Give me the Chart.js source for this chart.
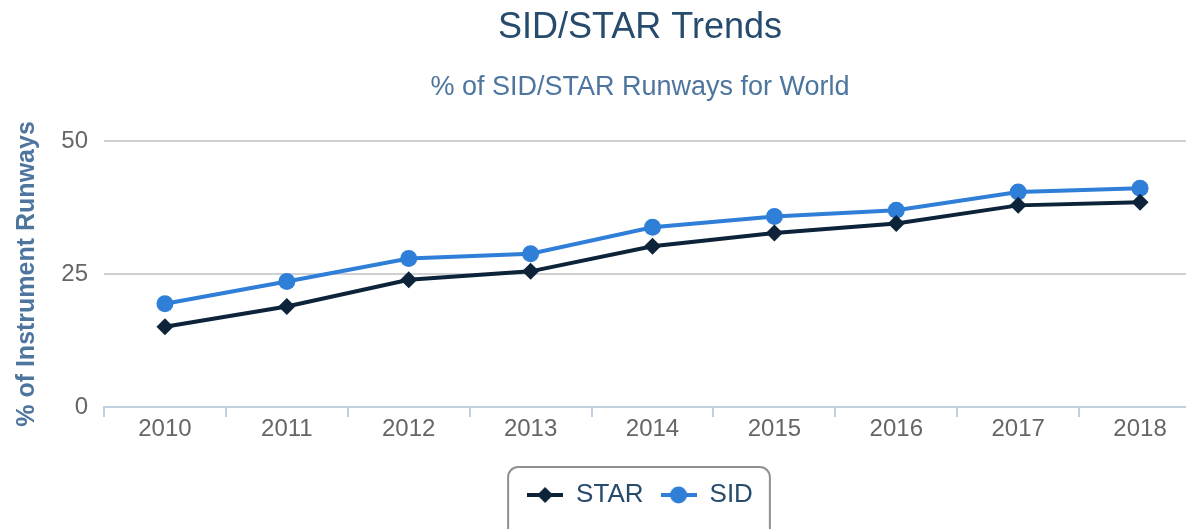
<!DOCTYPE html>
<html>
<head>
<meta charset="utf-8">
<script src="https://cdn.jsdelivr.net/npm/chart.js@4.4.1/dist/chart.umd.min.js"></script>
<style>
html,body{margin:0;padding:0;background:#fff;overflow:hidden;width:1186px;height:529px;}
#wrap{position:absolute;left:0;top:0;width:1280px;height:550px;}
</style>
</head>
<body>
<div id="wrap"><canvas id="c" width="1280" height="550"></canvas></div>
<script>
const categories = ['2010','2011','2012','2013','2014','2015','2016','2017','2018'];
const starValues = [15.1, 18.9, 23.9, 25.5, 30.2, 32.7, 34.5, 37.9, 38.5];
const sidValues  = [19.4, 23.6, 27.9, 28.8, 33.8, 35.8, 37.0, 40.4, 41.1];
const yTicks = [0, 25, 50];

const FONT = '"Liberation Sans", Arial, sans-serif';
const STAR_COLOR = '#0d233a';
const SID_COLOR = '#2f7ed8';

function legendSymbol(color, shape) {
  const cv = document.createElement('canvas');
  cv.width = 36; cv.height = 20;
  const g = cv.getContext('2d');
  g.strokeStyle = color; g.fillStyle = color; g.lineWidth = 4;
  g.beginPath(); g.moveTo(0, 10); g.lineTo(36, 10); g.stroke();
  g.beginPath();
  if (shape === 'diamond') {
    g.moveTo(18, 2); g.lineTo(26, 10); g.lineTo(18, 18); g.lineTo(10, 10); g.closePath();
  } else {
    g.arc(18, 10, 8.5, 0, Math.PI * 2);
  }
  g.fill();
  return cv;
}
const starSym = legendSymbol(STAR_COLOR, 'diamond');
const sidSym = legendSymbol(SID_COLOR, 'circle');

const legendBorder = {
  id: 'legendBorder',
  afterDraw(chart) {
    const lg = chart.legend;
    if (!lg || !lg.legendHitBoxes || !lg.legendHitBoxes.length) return;
    const hb = lg.legendHitBoxes;
    const left = Math.min(...hb.map(h => h.left)) - 19;
    const right = Math.max(...hb.map(h => h.left + h.width)) + 17;
    const top = hb[0].top - 15;
    const bottom = top + 80;
    const ctx = chart.ctx;
    ctx.save();
    ctx.strokeStyle = '#909090';
    ctx.lineWidth = 2;
    ctx.beginPath();
    ctx.roundRect(left, top, right - left, bottom - top, 10);
    ctx.stroke();
    ctx.restore();
  }
};

new Chart(document.getElementById('c'), {
  type: 'line',
  data: {
    labels: categories,
    datasets: [
      {
        label: 'STAR', data: starValues, yAxisID: 'y',
        borderColor: STAR_COLOR, backgroundColor: STAR_COLOR,
        borderWidth: 4, tension: 0,
        pointStyle: 'rectRot', pointRadius: 8.5, pointBorderWidth: 0,
        pointBackgroundColor: STAR_COLOR
      },
      {
        label: 'SID', data: sidValues, yAxisID: 'y',
        borderColor: SID_COLOR, backgroundColor: SID_COLOR,
        borderWidth: 4, tension: 0,
        pointStyle: 'circle', pointRadius: 8.5, pointBorderWidth: 0,
        pointBackgroundColor: SID_COLOR
      }
    ]
  },
  options: {
    responsive: false,
    animation: false,
    devicePixelRatio: 1,
    layout: { padding: { left: 0, right: 0, top: 0, bottom: 32 } },
    scales: {
      x: {
        type: 'category',
        offset: true,
        grid: { offset: true, drawOnChartArea: false, drawTicks: true, tickLength: 10, color: '#C0D0E0', lineWidth: 2 },
        border: { display: true, color: '#C0D0E0', width: 2 },
        ticks: { color: '#666666', font: { family: FONT, size: 24 }, padding: -2, maxRotation: 0, autoSkip: false },
        afterFit(s) { s.height = 58; }
      },
      y: {
        type: 'linear',
        position: 'left',
        min: 0, max: 50,
        afterBuildTicks(s) { s.ticks = yTicks.map(v => ({ value: v })); },
        grid: { color: '#d0d0d0', lineWidth: 2, drawTicks: false },
        border: { display: false },
        ticks: { color: '#666666', font: { family: FONT, size: 24 }, padding: 16 },
        title: {
          display: true, text: '% of Instrument Runways',
          color: '#4d759e', font: { family: FONT, size: 25, weight: 'bold' },
          padding: { top: 12, bottom: 0 }
        },
        afterFit(s) { s.width = 104; }
      },
      yr: {
        type: 'linear',
        position: 'right',
        display: true,
        grid: { display: false },
        border: { display: false },
        ticks: { display: false },
        afterFit(s) { s.width = 79; }
      }
    },
    plugins: {
      title: {
        display: true, text: 'SID/STAR Trends',
        color: '#274b6d', font: { family: FONT, size: 36, weight: 'normal' },
        padding: { top: 6, bottom: 22.2 }
      },
      subtitle: {
        display: true, text: '% of SID/STAR Runways for World',
        color: '#4d759e', font: { family: FONT, size: 27, weight: 'normal' },
        padding: { top: 0, bottom: 37.2 }
      },
      legend: {
        display: true, position: 'bottom',
        labels: {
          usePointStyle: true, pointStyleWidth: 36,
          padding: 17,
          color: '#274b6d', font: { family: FONT, size: 26 },
          generateLabels(chart) {
            return chart.data.datasets.map((ds, i) => ({
              text: ds.label,
              pointStyle: i === 0 ? starSym : sidSym,
              fillStyle: ds.borderColor, strokeStyle: ds.borderColor,
              lineWidth: 0, hidden: false, datasetIndex: i, fontColor: '#274b6d'
            }));
          }
        }
      },
      tooltip: { enabled: false }
    }
  },
  plugins: [legendBorder]
});
</script>
</body>
</html>
